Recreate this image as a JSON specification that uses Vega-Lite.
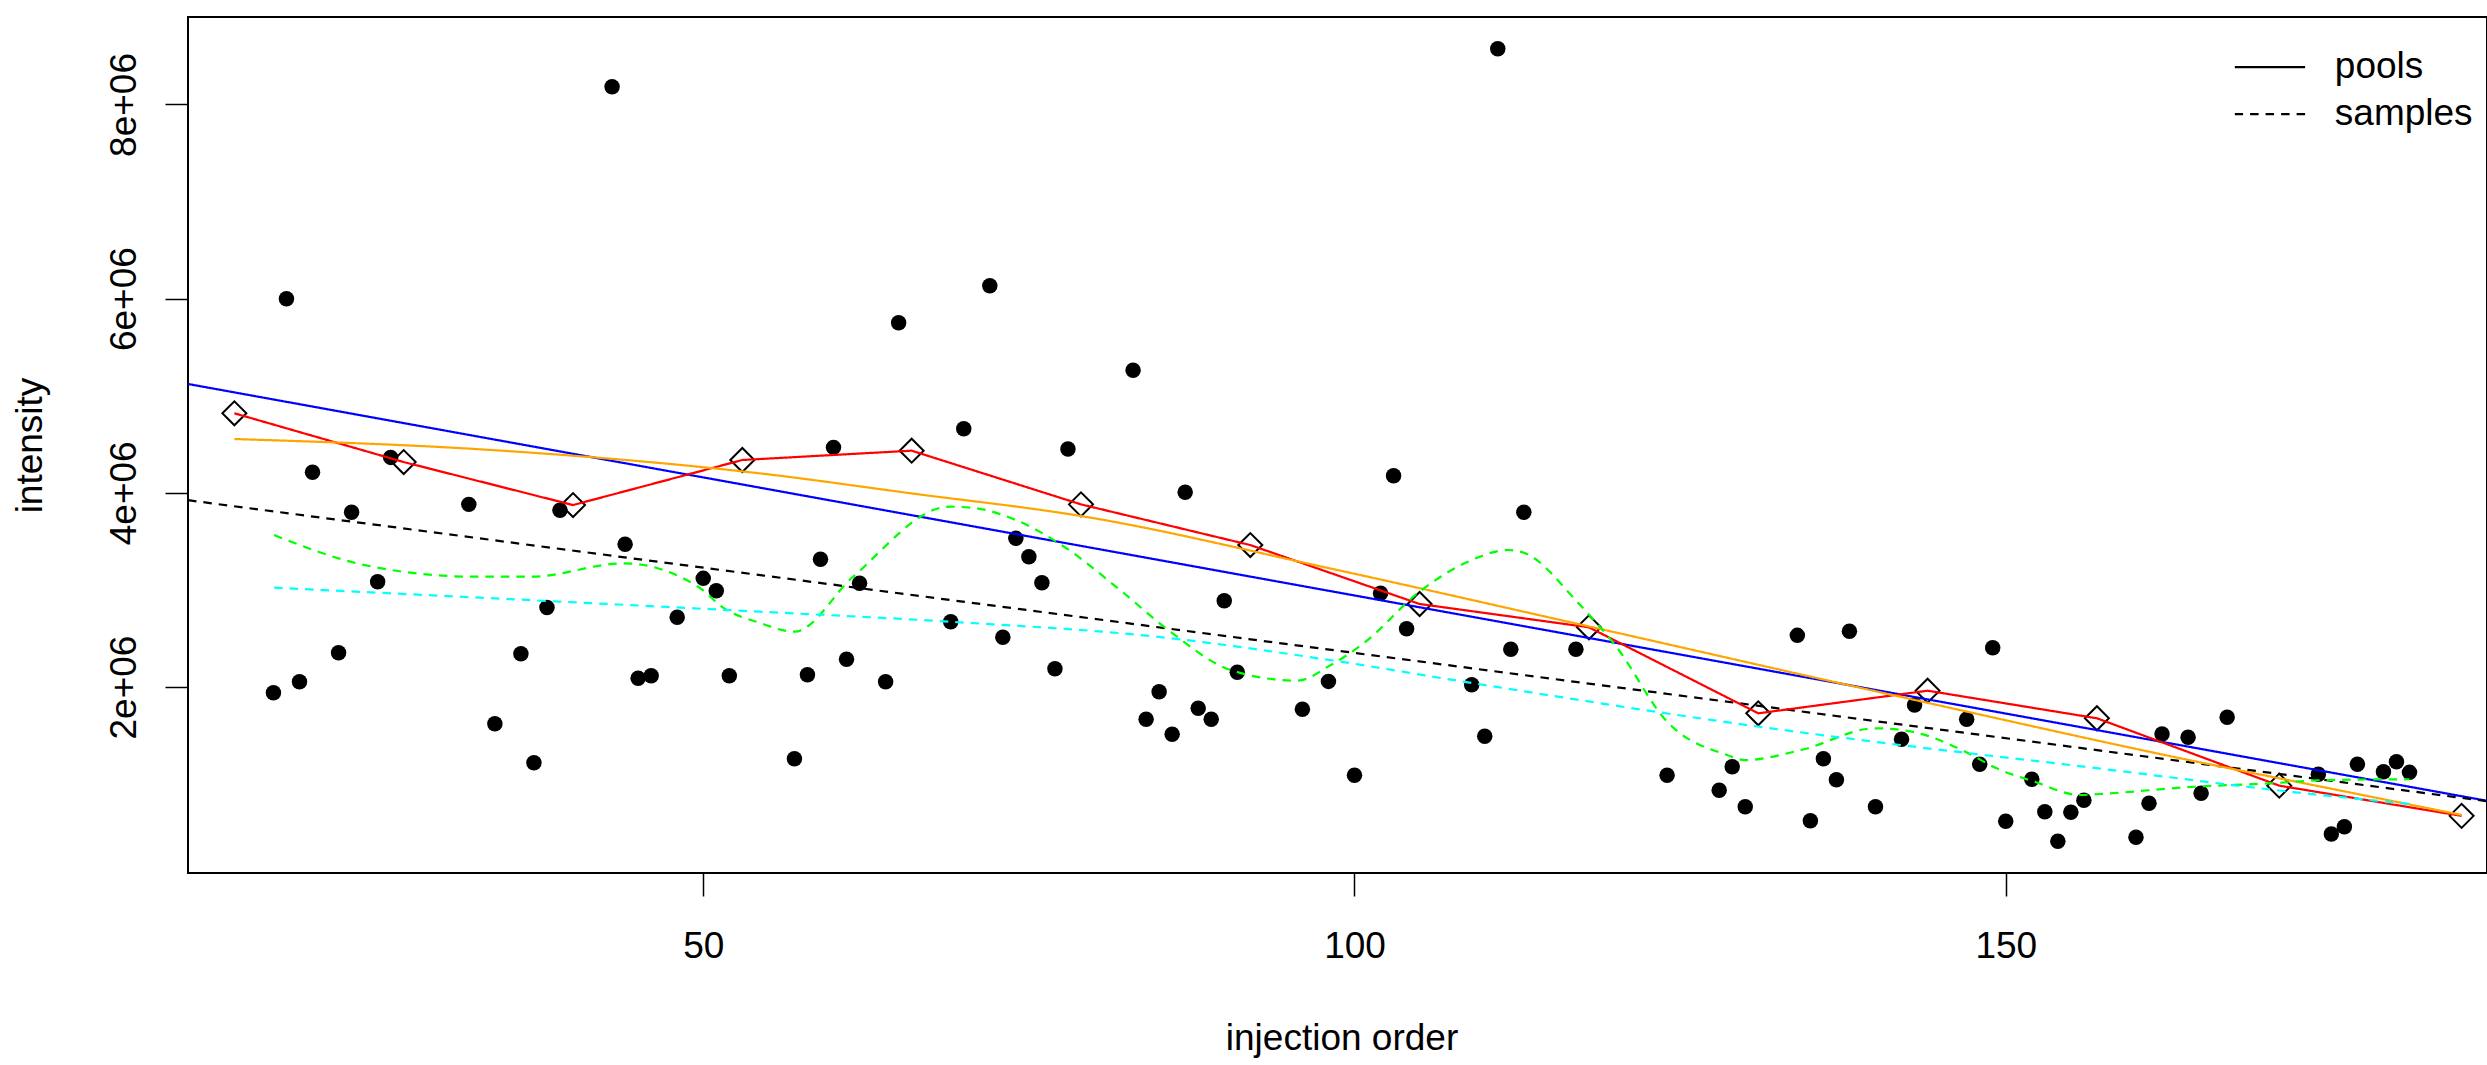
{
  "$schema": "https://vega.github.io/schema/vega-lite/v6.json",
  "autosize": {"type": "none"},
  "padding": {"left": 188, "top": 17, "right": 0, "bottom": 192},
  "width": 2299,
  "height": 856,
  "background": "white",
  "config": {
    "view": {"stroke": "black", "strokeWidth": 2},
    "font": "Liberation Sans",
    "axis": {"domain": false, "grid": false, "tickColor": "black", "tickWidth": 1.5, "tickSize": 23, "labelFont": "Liberation Sans", "labelFontSize": 37, "labelColor": "black", "titleFont": "Liberation Sans", "titleFontSize": 37, "titleFontWeight": "normal", "titleColor": "black", "labelFlush": false, "labelOverlap": false}
  },
  "datasets": {
    "samples": [
      {"order": 17, "intensity": 1941000}, {"order": 18, "intensity": 5999000}, {"order": 19, "intensity": 2055000}, {"order": 20, "intensity": 4211000},
      {"order": 22, "intensity": 2353000}, {"order": 23, "intensity": 3799000}, {"order": 25, "intensity": 3085000}, {"order": 26, "intensity": 4365000},
      {"order": 32, "intensity": 3881000}, {"order": 34, "intensity": 1622000}, {"order": 36, "intensity": 2343000}, {"order": 37, "intensity": 1220000},
      {"order": 38, "intensity": 2818000}, {"order": 39, "intensity": 3820000}, {"order": 43, "intensity": 8182000}, {"order": 44, "intensity": 3470000},
      {"order": 45, "intensity": 2090000}, {"order": 46, "intensity": 2116000}, {"order": 48, "intensity": 2718000}, {"order": 50, "intensity": 3119000},
      {"order": 51, "intensity": 2992000}, {"order": 52, "intensity": 2116000}, {"order": 57, "intensity": 1262000}, {"order": 58, "intensity": 2127000},
      {"order": 59, "intensity": 3315000}, {"order": 60, "intensity": 4468000}, {"order": 61, "intensity": 2285000}, {"order": 62, "intensity": 3068000},
      {"order": 64, "intensity": 2055000}, {"order": 65, "intensity": 5752000}, {"order": 69, "intensity": 2673000}, {"order": 70, "intensity": 4660000},
      {"order": 72, "intensity": 6133000}, {"order": 73, "intensity": 2512000}, {"order": 74, "intensity": 3531000}, {"order": 75, "intensity": 3342000},
      {"order": 76, "intensity": 3074000}, {"order": 77, "intensity": 2189000}, {"order": 78, "intensity": 4451000}, {"order": 83, "intensity": 5262000},
      {"order": 84, "intensity": 1667000}, {"order": 85, "intensity": 1952000}, {"order": 86, "intensity": 1513000}, {"order": 87, "intensity": 4005000},
      {"order": 88, "intensity": 1781000}, {"order": 89, "intensity": 1667000}, {"order": 90, "intensity": 2889000}, {"order": 91, "intensity": 2151000},
      {"order": 96, "intensity": 1770000}, {"order": 98, "intensity": 2058000}, {"order": 100, "intensity": 1091000}, {"order": 102, "intensity": 2965000},
      {"order": 103, "intensity": 4176000}, {"order": 104, "intensity": 2600000}, {"order": 109, "intensity": 2024000}, {"order": 110, "intensity": 1492000},
      {"order": 111, "intensity": 8574000}, {"order": 112, "intensity": 2388000}, {"order": 113, "intensity": 3799000}, {"order": 117, "intensity": 2388000},
      {"order": 124, "intensity": 1091000}, {"order": 128, "intensity": 936000}, {"order": 129, "intensity": 1179000}, {"order": 130, "intensity": 767000},
      {"order": 134, "intensity": 2532000}, {"order": 135, "intensity": 623000}, {"order": 136, "intensity": 1262000}, {"order": 137, "intensity": 1045000},
      {"order": 138, "intensity": 2574000}, {"order": 140, "intensity": 767000}, {"order": 142, "intensity": 1461000}, {"order": 143, "intensity": 1815000},
      {"order": 147, "intensity": 1667000}, {"order": 148, "intensity": 1204000}, {"order": 149, "intensity": 2405000}, {"order": 150, "intensity": 617000},
      {"order": 152, "intensity": 1049000}, {"order": 153, "intensity": 716000}, {"order": 154, "intensity": 411000}, {"order": 155, "intensity": 710000},
      {"order": 156, "intensity": 833000}, {"order": 160, "intensity": 452000}, {"order": 161, "intensity": 802000}, {"order": 162, "intensity": 1516000},
      {"order": 164, "intensity": 1482000}, {"order": 165, "intensity": 905000}, {"order": 167, "intensity": 1688000}, {"order": 174, "intensity": 1101000},
      {"order": 175, "intensity": 486000}, {"order": 176, "intensity": 561000}, {"order": 177, "intensity": 1204000}, {"order": 179, "intensity": 1128000},
      {"order": 180, "intensity": 1231000}, {"order": 181, "intensity": 1121000}
    ],
    "pools": [
      {"order": 14, "intensity": 4819000}, {"order": 27, "intensity": 4317000}, {"order": 40, "intensity": 3874000}, {"order": 53, "intensity": 4338000},
      {"order": 66, "intensity": 4434000}, {"order": 79, "intensity": 3881000}, {"order": 92, "intensity": 3462000}, {"order": 105, "intensity": 2855000},
      {"order": 118, "intensity": 2615000}, {"order": 131, "intensity": 1729000}, {"order": 144, "intensity": 1962000}, {"order": 157, "intensity": 1678000},
      {"order": 171, "intensity": 984000}, {"order": 185, "intensity": 673000}
    ],
    "lines": [
      {"series": "pool fit", "type": "pools", "order": 10.44, "intensity": 5121000},
      {"series": "pool fit", "type": "pools", "order": 186.95, "intensity": 828000},
      {"series": "sample fit", "type": "samples", "order": 10.44, "intensity": 3924000},
      {"series": "sample fit", "type": "samples", "order": 186.95, "intensity": 824000},
      {"series": "pool trace", "type": "pools", "order": 14, "intensity": 4819000},
      {"series": "pool trace", "type": "pools", "order": 27, "intensity": 4317000},
      {"series": "pool trace", "type": "pools", "order": 40, "intensity": 3874000},
      {"series": "pool trace", "type": "pools", "order": 53, "intensity": 4338000},
      {"series": "pool trace", "type": "pools", "order": 66, "intensity": 4434000},
      {"series": "pool trace", "type": "pools", "order": 79, "intensity": 3881000},
      {"series": "pool trace", "type": "pools", "order": 92, "intensity": 3462000},
      {"series": "pool trace", "type": "pools", "order": 105, "intensity": 2855000},
      {"series": "pool trace", "type": "pools", "order": 118, "intensity": 2615000},
      {"series": "pool trace", "type": "pools", "order": 131, "intensity": 1729000},
      {"series": "pool trace", "type": "pools", "order": 144, "intensity": 1962000},
      {"series": "pool trace", "type": "pools", "order": 157, "intensity": 1678000},
      {"series": "pool trace", "type": "pools", "order": 171, "intensity": 984000},
      {"series": "pool trace", "type": "pools", "order": 185, "intensity": 673000},
      {"series": "pool smooth", "type": "pools", "order": 14, "intensity": 4554000},
      {"series": "pool smooth", "type": "pools", "order": 34.2, "intensity": 4437000},
      {"series": "pool smooth", "type": "pools", "order": 54.3, "intensity": 4201000},
      {"series": "pool smooth", "type": "pools", "order": 66, "intensity": 3994000},
      {"series": "pool smooth", "type": "pools", "order": 79, "intensity": 3761000},
      {"series": "pool smooth", "type": "pools", "order": 98.1, "intensity": 3222000},
      {"series": "pool smooth", "type": "pools", "order": 118.1, "intensity": 2621000},
      {"series": "pool smooth", "type": "pools", "order": 141.9, "intensity": 1900000},
      {"series": "pool smooth", "type": "pools", "order": 165.9, "intensity": 1197000},
      {"series": "pool smooth", "type": "pools", "order": 172.3, "intensity": 1025000},
      {"series": "pool smooth", "type": "pools", "order": 185, "intensity": 682000},
      {"series": "sample smooth", "type": "samples", "order": 17.05, "intensity": 3565000},
      {"series": "sample smooth", "type": "samples", "order": 24.0, "intensity": 3256000},
      {"series": "sample smooth", "type": "samples", "order": 32.5, "intensity": 3136000},
      {"series": "sample smooth", "type": "samples", "order": 36.8, "intensity": 3136000},
      {"series": "sample smooth", "type": "samples", "order": 43.9, "intensity": 3274000},
      {"series": "sample smooth", "type": "samples", "order": 49.6, "intensity": 3033000},
      {"series": "sample smooth", "type": "samples", "order": 51.6, "intensity": 2810000},
      {"series": "sample smooth", "type": "samples", "order": 54.3, "intensity": 2662000},
      {"series": "sample smooth", "type": "samples", "order": 57.0, "intensity": 2570000},
      {"series": "sample smooth", "type": "samples", "order": 61.5, "intensity": 3136000},
      {"series": "sample smooth", "type": "samples", "order": 68.9, "intensity": 3857000},
      {"series": "sample smooth", "type": "samples", "order": 70.6, "intensity": 3847000},
      {"series": "sample smooth", "type": "samples", "order": 74.0, "intensity": 3720000},
      {"series": "sample smooth", "type": "samples", "order": 77.7, "intensity": 3445000},
      {"series": "sample smooth", "type": "samples", "order": 82.0, "intensity": 2999000},
      {"series": "sample smooth", "type": "samples", "order": 85.7, "intensity": 2587000},
      {"series": "sample smooth", "type": "samples", "order": 90.5, "intensity": 2175000},
      {"series": "sample smooth", "type": "samples", "order": 95.6, "intensity": 2065000},
      {"series": "sample smooth", "type": "samples", "order": 98.1, "intensity": 2220000},
      {"series": "sample smooth", "type": "samples", "order": 100.7, "intensity": 2450000},
      {"series": "sample smooth", "type": "samples", "order": 105.0, "intensity": 2982000},
      {"series": "sample smooth", "type": "samples", "order": 108.7, "intensity": 3290000},
      {"series": "sample smooth", "type": "samples", "order": 111.8, "intensity": 3411000},
      {"series": "sample smooth", "type": "samples", "order": 113.0, "intensity": 3383000},
      {"series": "sample smooth", "type": "samples", "order": 117.2, "intensity": 2862000},
      {"series": "sample smooth", "type": "samples", "order": 120.1, "intensity": 2415000},
      {"series": "sample smooth", "type": "samples", "order": 124.0, "intensity": 1643000},
      {"series": "sample smooth", "type": "samples", "order": 128.6, "intensity": 1300000},
      {"series": "sample smooth", "type": "samples", "order": 130.0, "intensity": 1248000},
      {"series": "sample smooth", "type": "samples", "order": 134.3, "intensity": 1351000},
      {"series": "sample smooth", "type": "samples", "order": 140.0, "intensity": 1575000},
      {"series": "sample smooth", "type": "samples", "order": 142.8, "intensity": 1540000},
      {"series": "sample smooth", "type": "samples", "order": 146.9, "intensity": 1334000},
      {"series": "sample smooth", "type": "samples", "order": 149.3, "intensity": 1163000},
      {"series": "sample smooth", "type": "samples", "order": 152.2, "intensity": 1025000},
      {"series": "sample smooth", "type": "samples", "order": 155.7, "intensity": 888000},
      {"series": "sample smooth", "type": "samples", "order": 157.2, "intensity": 898000},
      {"series": "sample smooth", "type": "samples", "order": 164.5, "intensity": 973000},
      {"series": "sample smooth", "type": "samples", "order": 170.3, "intensity": 1008000},
      {"series": "sample smooth", "type": "samples", "order": 174.7, "intensity": 1042000},
      {"series": "sample smooth", "type": "samples", "order": 181.0, "intensity": 1050000},
      {"series": "sample trend", "type": "samples", "order": 17.05, "intensity": 3023000},
      {"series": "sample trend", "type": "samples", "order": 54.3, "intensity": 2776000},
      {"series": "sample trend", "type": "samples", "order": 68.9, "intensity": 2673000},
      {"series": "sample trend", "type": "samples", "order": 84.8, "intensity": 2518000},
      {"series": "sample trend", "type": "samples", "order": 98.1, "intensity": 2278000},
      {"series": "sample trend", "type": "samples", "order": 108.7, "intensity": 2048000},
      {"series": "sample trend", "type": "samples", "order": 131.4, "intensity": 1585000},
      {"series": "sample trend", "type": "samples", "order": 141.9, "intensity": 1403000},
      {"series": "sample trend", "type": "samples", "order": 156.0, "intensity": 1180000},
      {"series": "sample trend", "type": "samples", "order": 171.8, "intensity": 922000},
      {"series": "sample trend", "type": "samples", "order": 181.0, "intensity": 795000}
    ]
  },
  "encoding": {
    "x": {
      "field": "order", "type": "quantitative",
      "scale": {"domain": [10.44, 186.95], "nice": false, "zero": false},
      "axis": {"values": [50, 100, 150], "labelBaseline": "alphabetic", "labelPadding": 61, "title": "injection order", "titleBaseline": "alphabetic", "titleAlign": "center", "titleAnchor": "start", "titleX": 1153.5, "titleY": 176}
    },
    "y": {
      "field": "intensity", "type": "quantitative",
      "scale": {"domain": [84500, 8900500], "nice": false, "zero": false},
      "axis": {"values": [2000000, 4000000, 6000000, 8000000], "labelExpr": "datum.value / 1000000 + 'e+06'", "labelAngle": -90, "labelAlign": "center", "labelBaseline": "alphabetic", "labelPadding": 30, "title": "intensity", "titleAngle": -90, "titleBaseline": "alphabetic", "titleAlign": "center", "titleAnchor": "start", "titleX": -147, "titleY": 428}
    }
  },
  "layer": [
    {
      "data": {"name": "samples"},
      "mark": {"type": "circle", "size": 240, "color": "black", "opacity": 1}
    },
    {
      "data": {"name": "pools"},
      "mark": {"type": "point", "shape": "diamond", "size": 576, "filled": false, "color": "black", "strokeWidth": 2, "opacity": 1}
    },
    {
      "data": {"name": "lines"},
      "transform": [{"filter": {"field": "series", "oneOf": ["pool fit", "sample fit", "pool trace"]}}],
      "mark": {"type": "line", "strokeWidth": 2.2, "clip": true, "interpolate": "linear"},
      "encoding": {
        "color": {"field": "series", "type": "nominal", "scale": {"domain": ["pool fit", "sample fit", "pool trace", "pool smooth", "sample smooth", "sample trend"], "range": ["#0000ff", "#000000", "#ff0000", "#ffa500", "#00ff00", "#00ffff"]}, "legend": null},
        "strokeDash": {"field": "type", "type": "nominal", "scale": {"domain": ["pools", "samples"], "range": [[1, 0], [8.5, 7]]},
          "legend": {"orient": "none", "legendX": 2046.6, "legendY": 26.9, "title": null, "padding": 0, "symbolType": "M-2.5,0L2.5,0", "symbolSize": 795, "symbolOffset": 16.75, "clipHeight": 46.4, "symbolStrokeColor": "black", "symbolStrokeWidth": 2.2, "labelFont": "Liberation Sans", "labelFontSize": 37, "labelColor": "black", "labelBaseline": "middle", "labelOffset": 46.5, "rowPadding": 0}},
        "order": {"field": "order", "type": "quantitative"}
      }
    },
    {
      "data": {"name": "lines"},
      "transform": [{"filter": {"field": "series", "oneOf": ["pool smooth", "sample smooth", "sample trend"]}}],
      "mark": {"type": "line", "strokeWidth": 2.2, "clip": true, "interpolate": "monotone"},
      "encoding": {
        "color": {"field": "series", "type": "nominal", "scale": {"domain": ["pool fit", "sample fit", "pool trace", "pool smooth", "sample smooth", "sample trend"], "range": ["#0000ff", "#000000", "#ff0000", "#ffa500", "#00ff00", "#00ffff"]}, "legend": null},
        "strokeDash": {"field": "type", "type": "nominal", "scale": {"domain": ["pools", "samples"], "range": [[1, 0], [8.5, 7]]},
          "legend": {"orient": "none", "legendX": 2046.6, "legendY": 26.9, "title": null, "padding": 0, "symbolType": "M-2.5,0L2.5,0", "symbolSize": 795, "symbolOffset": 16.75, "clipHeight": 46.4, "symbolStrokeColor": "black", "symbolStrokeWidth": 2.2, "labelFont": "Liberation Sans", "labelFontSize": 37, "labelColor": "black", "labelBaseline": "middle", "labelOffset": 46.5, "rowPadding": 0}},
        "order": {"field": "order", "type": "quantitative"}
      }
    }
  ]
}
